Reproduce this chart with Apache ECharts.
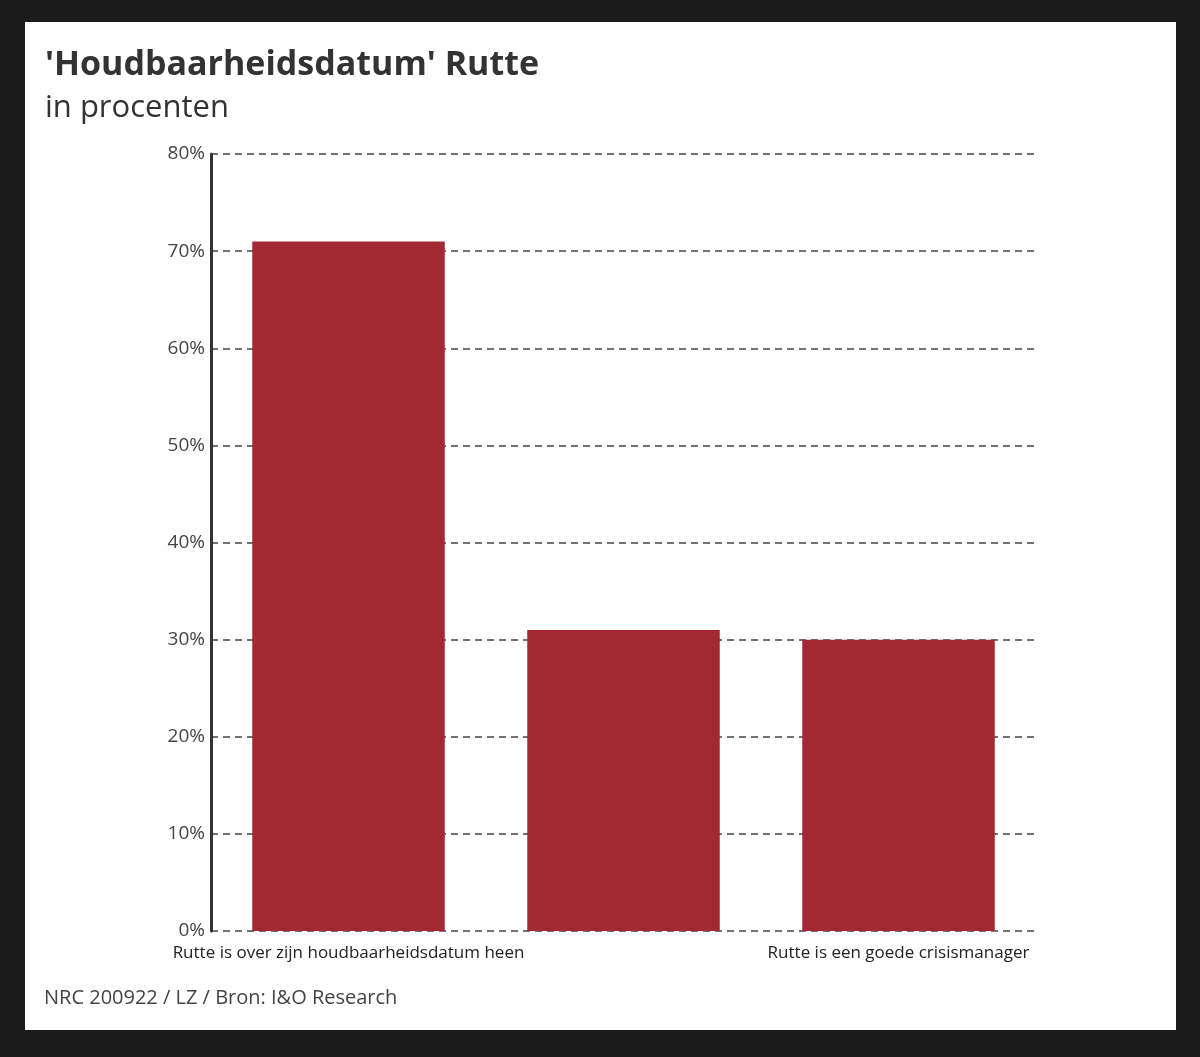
<!DOCTYPE html>
<html>
<head>
<meta charset="utf-8">
<script src="https://cdn.jsdelivr.net/npm/echarts@6/dist/echarts.min.js"></script>
<style>
  html, body { margin: 0; padding: 0; background: #1b1b1b; }
  #chart { position: absolute; left: 25px; top: 22px; width: 1151px; height: 1008px; background: #fff; }
</style>
</head>
<body>
<div id="chart"></div>
<script>
// categorieën (middelste label staat niet in de bron)
var categories = ['Rutte is over zijn houdbaarheidsdatum heen', '', 'Rutte is een goede crisismanager'];
var values = [71, 31, 30];
var yTicks = [0, 10, 20, 30, 40, 50, 60, 70, 80];

var FONT = '"Open Sans", Lato, sans-serif';

var chart = echarts.init(document.getElementById('chart'));
chart.setOption({
  animation: false,
  backgroundColor: '#fff',
  title: {
    text: "'Houdbaarheidsdatum' Rutte",
    subtext: 'in procenten',
    left: 15,
    top: 21,
    itemGap: 11,
    textStyle: { fontFamily: FONT, fontWeight: 'bold', fontSize: 34, color: '#333' },
    subtextStyle: { fontFamily: FONT, fontSize: 31, color: '#333' }
  },
  graphic: [{
    type: 'text',
    left: 19,
    top: 966,
    style: { text: 'NRC 200922 / LZ / Bron: I&O Research', fontFamily: FONT, fontSize: 20, fill: '#444' }
  }],
  grid: { left: 186, top: 132, width: 825, height: 777 },
  xAxis: {
    type: 'category',
    data: categories,
    axisLine: { show: false },
    axisTick: { show: false },
    axisLabel: { interval: 0, margin: 14, fontFamily: FONT, fontSize: 17, color: '#222' }
  },
  yAxis: {
    type: 'value',
    min: yTicks[0],
    max: yTicks[yTicks.length - 1],
    interval: 10,
    axisLine: { show: true, lineStyle: { color: '#333', width: 3 } },
    axisTick: { show: false },
    axisLabel: { margin: 6, fontFamily: FONT, fontSize: 19, color: '#444', formatter: '{value}%' },
    splitLine: { show: true, lineStyle: { color: '#444', width: 1.5, type: [7, 5] } }
  },
  series: [{
    type: 'bar',
    data: values,
    barWidth: '70%',
    itemStyle: { color: '#a22932' }
  }]
});
</script>
</body>
</html>
